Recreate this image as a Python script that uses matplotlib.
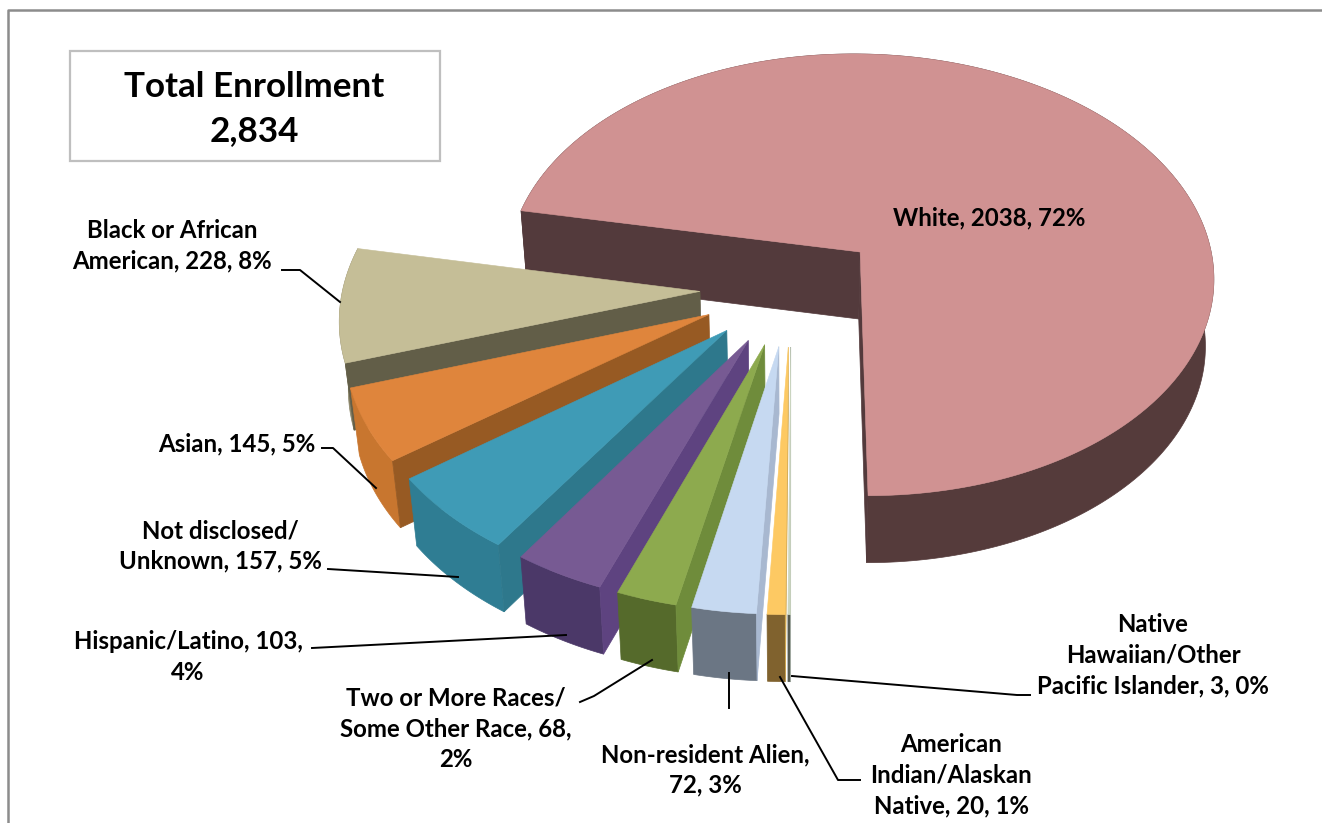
#!/usr/bin/env python

import numpy as np
import matplotlib
matplotlib.use('Agg')
import matplotlib.pyplot as plt
from matplotlib.patches import Polygon, Rectangle

# slices, in drawing order going round from the bottom edge of White
categories = ['White', 'Black or African American', 'Asian', 'Not disclosed/ Unknown',
              'Hispanic/Latino', 'Two or More Races/ Some Other Race',
              'Non-resident Alien', 'American Indian/Alaskan Native',
              'Native Hawaiian/Other Pacific Islander']
counts = [2038, 228, 145, 157, 103, 68, 72, 20, 3]
percents = [72, 8, 5, 5, 4, 2, 3, 1, 0]
total = 2834

top_colors = ['#D09292', '#C5BE97', '#DF853C', '#3F9BB6', '#775A93', '#8DAA4E', '#C6D9F1', '#FDC963', '#CBD6C0']
wall_colors = ['#533A3C', '#625E48', '#975A23', '#2E788C', '#5E4380', '#6F8C3B', '#A8B8D0', '#D0A850', '#A0A8A0']
side_colors = ['#553B3B', '#8A8468', '#C8762F', '#2F7D93', '#4B3868', '#556A2B', '#6B7684', '#80622E', '#555A50']

# label text, wrapped as in the chart
label_text = {
    0: 'White, 2038, 72%',
    1: 'Black or African\nAmerican, 228, 8%',
    2: 'Asian, 145, 5%',
    3: 'Not disclosed/\nUnknown, 157, 5%',
    4: 'Hispanic/Latino, 103,\n4%',
    5: 'Two or More Races/\nSome Other Race, 68,\n2%',
    6: 'Non-resident Alien,\n72, 3%',
    7: 'American\nIndian/Alaskan\nNative, 20, 1%',
    8: 'Native\nHawaiian/Other\nPacific Islander, 3, 0%',
}
label_pos = {0: (989, 218), 1: (172, 246), 2: (237, 444), 3: (220, 546), 4: (188, 657),
             5: (456, 729), 6: (705, 770), 7: (951, 775), 8: (1153, 655)}
leaders = [
    [(282, 270), (300, 270), (340, 302)],
    [(322, 448), (333, 448), (376, 488)],
    [(328, 569), (458, 577)],
    [(312, 648), (566, 635)],
    [(580, 702), (594, 696), (652, 660)],
    [(729, 708), (729, 673)],
    [(860, 780), (838, 780), (780, 677)],
    [(1030, 695), (1017, 695), (792, 676)],
]

# camera for the tilted pie
cx, cy = 791, 288
ax_a, ax_b = 357, 226
persp = 0.105
explode = 0.255
depth = 67
pinch = 0.02  # bottom face is slightly narrower than the top


def project(u, v):
    w = 1 + persp * v
    return cx + ax_a * u / w, cy - ax_b * v / w


def direction(theta):
    t = np.radians(theta)
    return np.sin(t), -np.cos(t)


def lower(x):
    return x + (cx - x) * pinch


plt.rcParams['font.family'] = ['Lato', 'DejaVu Sans']
fig = plt.figure(figsize=(13.22, 8.23), dpi=100)
ax = fig.add_axes([0, 0, 1, 1])
ax.set_xlim(0, 1322)
ax.set_ylim(823, 0)
ax.axis('off')

# outer frame and the box with the total
ax.plot([8, 8, 1322], [823, 10, 10], color='#8c8c8c', lw=1.8, zorder=1)
ax.add_patch(Rectangle((70, 51), 370, 110, fc='white', ec='#bfbfbf', lw=1.6, zorder=1))
ax.text(254, 109, 'Total Enrollment\n{:,}'.format(total), ha='center', va='center',
        fontsize=25.2, fontweight='bold', linespacing=1.5, zorder=5)

edges = np.concatenate([[0], np.cumsum(counts)]) * 360.0 / sum(counts)

for i in range(len(counts)):
    t0, t1 = edges[i], edges[i + 1]
    mid = (t0 + t1) / 2
    ox, oy = direction(mid)
    ox, oy = ox * explode, oy * explode
    thetas = np.linspace(t0, t1, max(4, int(t1 - t0) * 2))
    us = np.array([direction(t)[0] for t in thetas]) + ox
    vs = np.array([direction(t)[1] for t in thetas]) + oy
    xs, ys = project(us, vs)
    ax_, ay_ = project(ox, oy)

    # rim
    rim = list(zip(xs, ys)) + list(zip(lower(xs[::-1]), ys[::-1] + depth))
    ax.add_patch(Polygon(rim, closed=True, fc=side_colors[i], ec=side_colors[i], lw=0.5, zorder=2 + i))
    # cut faces
    for k in ([0, -1] if i == 0 else [-1]):
        wall = [(ax_, ay_), (xs[k], ys[k]), (lower(xs[k]), ys[k] + depth), (lower(ax_), ay_ + depth)]
        ax.add_patch(Polygon(wall, closed=True, fc=wall_colors[i], ec=wall_colors[i], lw=0.5, zorder=2 + i))
    # top
    top = [(ax_, ay_)] + list(zip(xs, ys))
    ax.add_patch(Polygon(top, closed=True, fc=top_colors[i], ec=top_colors[i], lw=0.4, zorder=2 + i))

for pts in leaders:
    ax.plot([p[0] for p in pts], [p[1] for p in pts], color='black', lw=1.4, zorder=20)

for i, txt in label_text.items():
    x, y = label_pos[i]
    ax.text(x, y, txt, ha='center', va='center', fontsize=17.3, fontweight='bold',
            linespacing=1.4, zorder=21)

fig.savefig('out.png', dpi=100)
